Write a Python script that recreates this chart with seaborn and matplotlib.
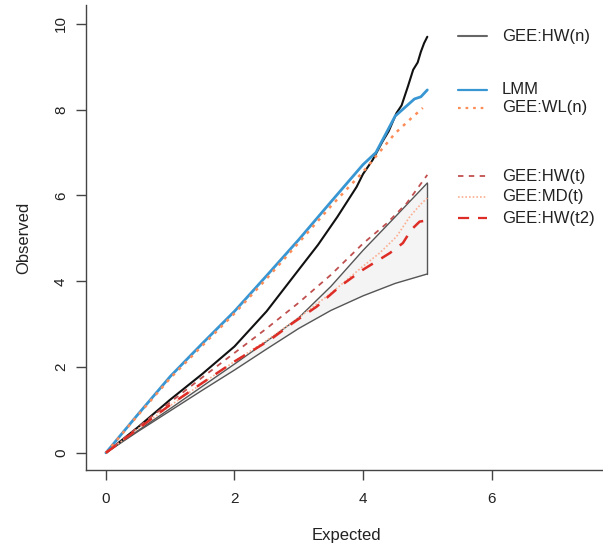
import numpy as np
import pandas as pd
import matplotlib
matplotlib.use("Agg")
import matplotlib.pyplot as plt
import seaborn as sns
from matplotlib.lines import Line2D

# ---- data ----
band_x     = [0, 0.5, 1, 1.5, 2, 2.5, 3, 3.5, 4, 4.5, 5]
band_upper = [0, 0.52, 1.03, 1.55, 2.07, 2.6, 3.15, 3.88, 4.72, 5.5, 6.29]
band_lower = [0, 0.5, 0.98, 1.46, 1.93, 2.42, 2.9, 3.32, 3.66, 3.95, 4.17]

hwn_x = [0, 0.5, 1, 1.5, 2, 2.5, 3, 3.3, 3.6, 3.9, 4.0, 4.15, 4.3, 4.4, 4.52, 4.6, 4.7, 4.78, 4.85, 4.9, 4.95, 5.0]
hwn_y = [0, 0.6, 1.24, 1.84, 2.48, 3.3, 4.27, 4.85, 5.5, 6.2, 6.5, 6.83, 7.25, 7.5, 7.92, 8.1, 8.55, 8.93, 9.1, 9.35, 9.55, 9.7]

lmm_x = [0, 0.5, 1, 1.5, 2, 2.5, 3, 3.5, 4, 4.2, 4.5, 4.65, 4.8, 4.9, 5.0]
lmm_y = [0, 0.9, 1.78, 2.55, 3.3, 4.13, 4.97, 5.85, 6.72, 7.0, 7.85, 8.05, 8.25, 8.3, 8.46]

wln_x = [0, 0.5, 1, 1.5, 2, 2.5, 3, 3.5, 4, 4.25, 4.5, 4.75, 4.93]
wln_y = [0, 0.88, 1.74, 2.5, 3.25, 4.06, 4.9, 5.75, 6.55, 7.0, 7.45, 7.8, 8.04]

hwt_x = [0, 0.5, 1, 1.5, 2, 2.5, 3, 3.5, 4, 4.37, 4.68, 5.0]
hwt_y = [0, 0.6, 1.18, 1.76, 2.33, 2.9, 3.5, 4.15, 4.88, 5.35, 5.82, 6.48]

mdt_x = [0, 0.5, 1, 1.5, 2, 2.5, 3, 3.5, 4, 4.26, 4.52, 4.73, 4.9, 5.0]
mdt_y = [0, 0.56, 1.1, 1.62, 2.13, 2.62, 3.15, 3.72, 4.35, 4.66, 5.04, 5.51, 5.8, 5.94]

hwt2_x = [0, 0.5, 1, 1.5, 2, 2.55, 2.91, 3.28, 3.64, 4.0, 4.42, 4.62, 4.75, 4.88, 5.0]
hwt2_y = [0, 0.56, 1.12, 1.63, 2.13, 2.63, 3.03, 3.41, 3.88, 4.27, 4.66, 4.89, 5.2, 5.39, 5.42]

legend_labels = ["GEE:HW(n)", "LMM", "GEE:WL(n)", "GEE:HW(t)", "GEE:MD(t)", "GEE:HW(t2)"]
x_ticks = [0, 2, 4, 6]
y_ticks = [0, 2, 4, 6, 8, 10]

# ---- figure ----
sns.set_style("ticks")
plt.rcParams["font.family"] = ["Liberation Sans", "DejaVu Sans"]

W, H = 603, 550
fig = plt.figure(figsize=(W / 100, H / 100), dpi=100)
ax = fig.add_axes([86 / W, (H - 470) / H, (606 - 86) / W, (470 - 5) / H])

ax.fill_between(band_x, band_lower, band_upper, color="#f4f4f4", lw=0, zorder=1)
sns.lineplot(x=band_x, y=band_upper, ax=ax, color="#555555", lw=1.0, sort=False, zorder=2)
sns.lineplot(x=band_x, y=band_lower, ax=ax, color="#555555", lw=1.0, sort=False, zorder=2)
ax.plot([band_x[-1], band_x[-1]], [band_lower[-1], band_upper[-1]], color="#555555", lw=1.0, zorder=2)

styles = {
    "hwn": dict(color="#111111", lw=1.5, ls="-"),
    "lmm": dict(color="#3896d3", lw=2.0, ls="-"),
    "wln": dict(color="#fc8d59", lw=1.8, ls=(0, (1.2, 2.2))),
    "hwt": dict(color="#c0504f", lw=1.3, ls=(0, (3, 3))),
    "mdt": dict(color="#fcae91", lw=1.2, ls=(0, (1, 1.2))),
    "hwt2": dict(color="#de2d26", lw=1.8, ls=(0, (5, 4))),
}
series = [("hwn", hwn_x, hwn_y), ("lmm", lmm_x, lmm_y), ("wln", wln_x, wln_y),
          ("hwt", hwt_x, hwt_y), ("mdt", mdt_x, mdt_y), ("hwt2", hwt2_x, hwt2_y)]
for z, (k, xs, ys) in enumerate(series):
    s = styles[k]
    sns.lineplot(x=xs, y=ys, ax=ax, color=s["color"], lw=s["lw"], linestyle=s["ls"],
                 sort=False, zorder=3 + z)

ax.set_xlim(-0.31, 7.78)
ax.set_ylim(-0.40, 10.44)
ax.set_xticks(x_ticks)
ax.set_yticks(y_ticks)
ax.set_yticklabels([str(v) for v in y_ticks], rotation=90, va="center")
ax.tick_params(axis="both", length=7, width=1, color="#444444", labelsize=11,
               labelcolor="#222222")
ax.tick_params(axis="x", pad=9)
ax.tick_params(axis="y", pad=6)
for sp in ["left", "bottom"]:
    ax.spines[sp].set_color("#444444")
    ax.spines[sp].set_linewidth(1.0)
ax.spines["right"].set_visible(False)
ax.spines["top"].set_visible(False)
ax.set_xlabel("Expected", fontsize=12, color="#222222", labelpad=16)
ax.set_ylabel("Observed", fontsize=12, color="#222222", labelpad=16)

# manual legend (R-style, with blank rows)
rows_y = [36, 90, 108, 176, 197, 218]
keys = ["hwn", "lmm", "wln", "hwt", "mdt", "hwt2"]
for lab, yy, k in zip(legend_labels, rows_y, keys):
    s = styles[k]
    yf = 1 - yy / H
    col = "#666666" if k == "hwn" else s["color"]
    fig.add_artist(Line2D([458 / W, 487 / W], [yf, yf], transform=fig.transFigure,
                          color=col, lw=min(s["lw"], 1.6), linestyle=s["ls"]))
    fig.text(502 / W, yf, lab, fontsize=12, color="#222222", va="center", ha="left")

fig.savefig("out.png", dpi=100)
